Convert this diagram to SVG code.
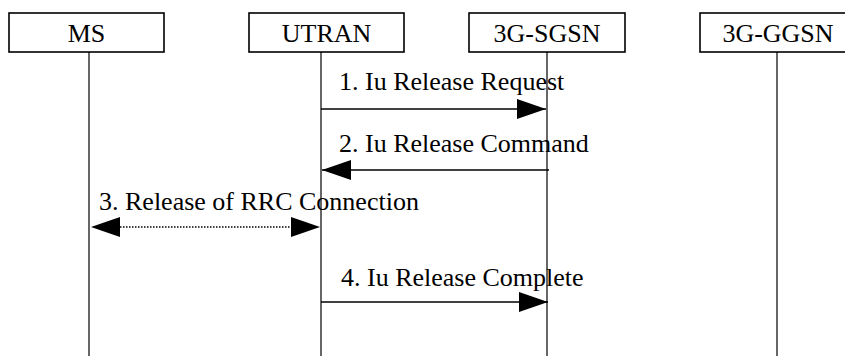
<svg xmlns="http://www.w3.org/2000/svg" width="845" height="358" viewBox="0 0 845 358">
<style>
.box{fill:#fff;stroke:#000;stroke-width:1.6}
.life{stroke:#000;stroke-width:1.2;fill:none}
.t{font-family:"Liberation Serif","Times New Roman",serif;font-size:26px;fill:#000}
.msg{stroke:#000;stroke-width:1.6;fill:none}
.dot{stroke:#000;stroke-width:1.5;fill:none;stroke-dasharray:1.5 1.5}
</style>
<defs>
<marker id="ah" markerUnits="userSpaceOnUse" markerWidth="30" markerHeight="22" refX="29" refY="10" orient="auto-start-reverse" viewBox="0 0 30 20">
<polygon points="0,0 29,10 0,20" fill="#000"/>
</marker>
</defs>
<g id="MS">
<rect class="box" x="9" y="13" width="155" height="39"/>
<line class="life" x1="89" y1="52" x2="89" y2="356"/>
<text class="t" x="86.5" y="42" text-anchor="middle">MS</text>
</g>
<g id="UTRAN">
<rect class="box" x="249" y="13" width="155" height="39"/>
<line class="life" x1="321" y1="52" x2="321" y2="356"/>
<text class="t" x="326.5" y="42" text-anchor="middle">UTRAN</text>
</g>
<g id="SGSN">
<rect class="box" x="469" y="13" width="156" height="39"/>
<line class="life" x1="547" y1="52" x2="547" y2="356"/>
<text class="t" x="547" y="42" text-anchor="middle">3G-SGSN</text>
</g>
<g id="GGSN">
<rect class="box" x="700" y="13" width="160" height="39"/>
<line class="life" x1="777" y1="52" x2="777" y2="356"/>
<text class="t" x="778" y="42" text-anchor="middle">3G-GGSN</text>
</g>
<g id="connectors">
<line class="msg" x1="321" y1="109" x2="546" y2="109" marker-end="url(#ah)"/>
<text class="t" x="339" y="90">1. Iu Release Request</text>
<line class="msg" x1="549" y1="170" x2="322" y2="170" marker-end="url(#ah)"/>
<text class="t" x="339" y="152">2. Iu Release Command</text>
<line class="dot" x1="120" y1="227" x2="292" y2="227"/>
<line x1="91" y1="227" x2="320" y2="227" stroke="none" marker-start="url(#ah)" marker-end="url(#ah)"/>
<text class="t" x="99" y="210">3. Release of RRC Connection</text>
<line class="msg" x1="321" y1="302" x2="548" y2="302" marker-end="url(#ah)"/>
<text class="t" x="341" y="286">4. Iu Release Complete</text>
</g>
</svg>
